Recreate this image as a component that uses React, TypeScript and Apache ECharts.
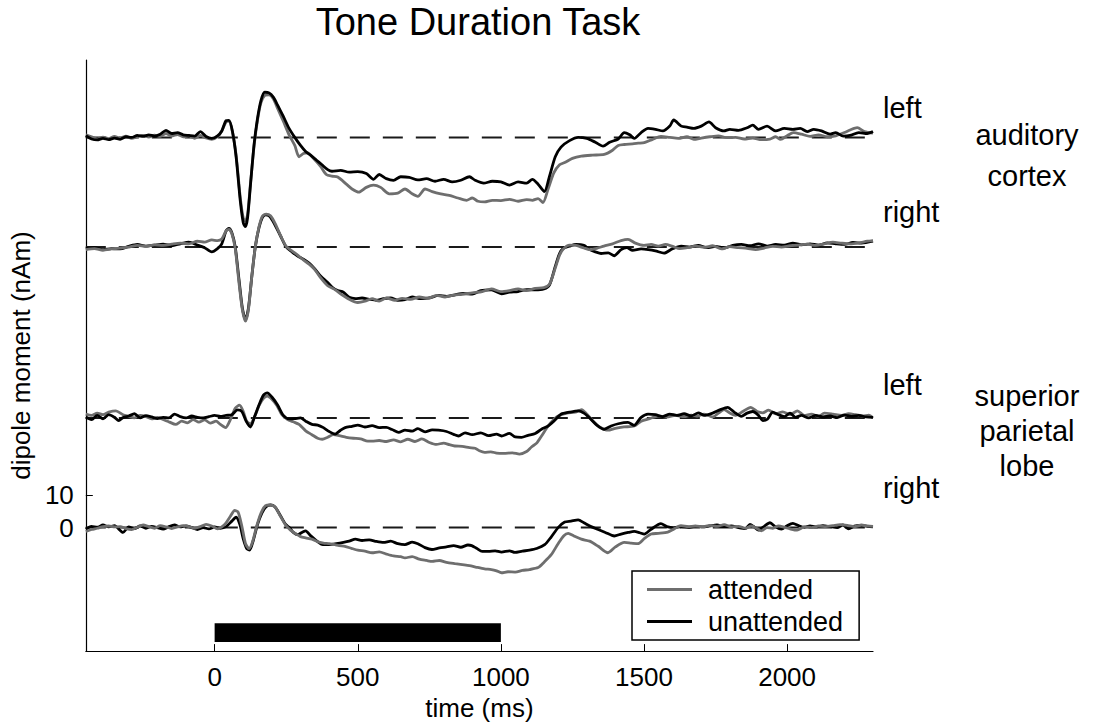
import React, { useEffect, useRef } from "react";
import * as echarts from "echarts";

// ---------- data (values relative to each trace's baseline, nAm) ----------
const traceNames = ["left auditory cortex", "right auditory cortex", "left superior parietal lobe", "right superior parietal lobe"];
const baselines = [121, 87, 34, 0];
const xTicks = [0, 500, 1000, 1500, 2000];
const yTicks = [0, 10];
const stimulusTime = [0, 1000];
const stimulusLevel = [-35.5, -29.7];

const lacAttended = [
  [-450, 0.8], [-430, 0.2], [-410, -0.5], [-390, 0.1], [-370, -0.4], [-350, 0.3], [-330, -0.2], [-310, 0.4], [-290, -0.3], [-270, 0.2], [-250, 0.6], [-230, 0.1], [-210, 0.7], [-190, 0.3], [-170, 1.2], [-150, 0.4], [-130, 0.9], [-110, 0.2], [-90, 0.5], [-70, -0.3], [-50, 0.6], [-30, -0.2], [-10, -0.6], [10, 0.2], [25, 2.0], [40, 4.8], [50, 5.0], [62, 1.8], [75, -5.5], [90, -19], [100, -25], [107, -26], [115, -24], [125, -14.5], [138, -2.5], [150, 5.5], [162, 10.8], [175, 13.0], [190, 13.2], [205, 12.0], [220, 9.0], [240, 5.0], [260, 0.8], [280, -2.5], [295, -6.0], [310, -5.0], [325, -4.8], [345, -6.5], [370, -9.0], [390, -11.5], [410, -12.0], [430, -12.3], [460, -14.5], [480, -16.0], [504, -17.0], [530, -15.5], [555, -14.8], [580, -15.5], [610, -17.5], [640, -17.3], [665, -16.0], [690, -17.5], [710, -18.3], [735, -16.0], [760, -16.8], [790, -17.5], [820, -18.0], [850, -18.8], [880, -19.5], [900, -18.8], [920, -19.8], [943, -20.0], [970, -19.5], [1000, -19.6], [1030, -19.2], [1060, -19.8], [1090, -19.3], [1110, -19.5], [1130, -19.0], [1147, -20.2], [1165, -16.0], [1185, -11.0], [1205, -8.5], [1223, -7.8], [1250, -6.5], [1281, -5.8], [1320, -5.5], [1361, -5.3], [1390, -4.0], [1410, -2.5], [1431, -2.2], [1460, -2.0], [1480, -1.8], [1501, -1.6], [1530, -0.6], [1559, 0.3], [1590, 0.0], [1620, -0.3], [1650, 0.2], [1674, -0.6], [1700, -0.2], [1730, 0.2], [1760, 0.5], [1790, -0.1], [1820, 0.0], [1850, -0.5], [1880, -0.2], [1910, -0.7], [1940, -0.5], [1960, 0.2], [1977, -0.6], [2000, 0.5], [2022, 1.5], [2050, 1.0], [2080, 0.3], [2110, 0.8], [2140, 0.2], [2170, 0.5], [2200, 1.5], [2220, 2.3], [2245, 3.0], [2270, 1.8], [2300, 1.3],
];
const lacUnattended = [
  [-450, 0.5], [-430, -0.5], [-410, -0.8], [-390, -0.3], [-370, -0.7], [-350, -0.2], [-330, -0.6], [-310, 0.2], [-290, 0.0], [-270, 0.6], [-250, 0.3], [-230, 0.8], [-210, 0.4], [-190, 1.0], [-170, 2.2], [-150, 1.2], [-130, 1.5], [-110, 0.8], [-90, 0.6], [-70, 0.4], [-50, 1.8], [-30, 0.3], [-10, -0.3], [10, 0.5], [25, 2.0], [40, 5.2], [50, 5.3], [62, 2.0], [75, -6.0], [90, -20], [100, -26.5], [107, -27.7], [115, -25], [125, -15], [138, -2.0], [150, 6.0], [162, 11.5], [175, 14.0], [190, 13.8], [205, 12.5], [220, 10.0], [240, 6.5], [260, 2.8], [280, 0.0], [300, -2.5], [318, -4.4], [335, -5.5], [355, -7.0], [375, -8.5], [395, -10.0], [410, -10.5], [440, -10.2], [470, -10.8], [500, -10.6], [530, -11.2], [555, -13.0], [575, -11.5], [600, -12.8], [625, -13.3], [650, -12.2], [680, -12.4], [710, -13.2], [740, -12.8], [770, -13.6], [800, -13.0], [830, -13.8], [860, -13.3], [890, -12.2], [910, -13.3], [940, -14.2], [970, -13.6], [1000, -13.8], [1030, -14.8], [1060, -13.8], [1090, -14.2], [1110, -13.0], [1130, -14.5], [1152, -16.8], [1170, -12.0], [1190, -6.0], [1210, -3.0], [1240, -1.0], [1270, 0.0], [1300, -0.3], [1330, -1.5], [1357, -2.7], [1380, -1.5], [1410, -0.5], [1431, 1.5], [1450, 0.8], [1466, -0.3], [1490, 1.5], [1514, 2.8], [1540, 2.5], [1566, 2.0], [1590, 3.5], [1604, 5.4], [1630, 3.5], [1650, 3.2], [1674, 2.8], [1700, 3.5], [1727, 4.8], [1750, 3.0], [1779, 2.0], [1800, 2.5], [1830, 2.2], [1860, 3.0], [1880, 3.8], [1900, 2.5], [1930, 3.5], [1960, 2.0], [1990, 2.8], [2020, 2.5], [2046, 2.8], [2070, 1.8], [2093, 2.5], [2120, 2.0], [2150, 1.0], [2170, 1.5], [2196, 0.4], [2220, 0.6], [2250, 1.5], [2280, 1.2], [2300, 1.8],
];
const racAttended = [
  [-450, -0.8], [-420, -0.5], [-390, -1.0], [-360, -0.6], [-330, -0.3], [-300, 0.0], [-270, 0.5], [-240, 0.2], [-210, 0.7], [-180, 0.5], [-150, 0.9], [-120, 1.2], [-90, 1.0], [-60, 1.8], [-35, 1.5], [-10, 2.2], [10, 2.0], [25, 2.5], [40, 5.0], [50, 5.5], [60, 4.2], [72, -0.5], [85, -11], [97, -19.5], [108, -23], [118, -19.5], [130, -9], [142, 0], [155, 6.3], [167, 9.6], [180, 10.2], [195, 9.7], [212, 7.2], [232, 3.2], [250, 0.2], [270, -1.2], [290, -2.5], [310, -4.0], [330, -5.3], [350, -7.0], [370, -9.5], [395, -12.0], [420, -13.2], [445, -14.8], [470, -16.2], [500, -17.2], [525, -16.8], [550, -16.0], [575, -16.8], [600, -15.8], [630, -16.5], [655, -15.9], [685, -16.2], [715, -15.5], [745, -15.9], [775, -15.0], [805, -15.5], [835, -14.9], [865, -14.7], [900, -14.2], [935, -13.8], [967, -13.0], [1000, -13.8], [1030, -13.5], [1060, -13.0], [1090, -13.5], [1120, -12.8], [1150, -12.6], [1170, -11.5], [1190, -6.5], [1205, -2.5], [1218, -0.6], [1240, 0.6], [1263, 0.5], [1290, -0.3], [1310, -0.8], [1335, -0.4], [1360, 0.3], [1390, 1.0], [1420, 2.0], [1444, 2.4], [1470, 1.2], [1500, 0.5], [1525, 0.8], [1550, 0.3], [1575, 0.8], [1600, 0.2], [1625, -0.5], [1650, -0.2], [1680, 0.3], [1710, -0.1], [1740, 0.4], [1770, -0.6], [1800, 0.1], [1830, -0.2], [1860, -0.4], [1890, -0.8], [1920, -0.3], [1950, 0.2], [1980, 0.0], [2010, 0.4], [2040, 0.6], [2070, 0.9], [2100, 0.5], [2130, 1.0], [2160, 1.5], [2190, 1.2], [2220, 1.0], [2250, 1.3], [2280, 1.8], [2300, 2.0],
];
const racUnattended = [
  [-450, -0.5], [-420, -0.2], [-390, -0.8], [-360, -0.5], [-330, -0.6], [-300, 0.2], [-270, 0.8], [-240, 0.3], [-210, 0.6], [-180, 0.9], [-150, 0.4], [-120, 1.0], [-90, 1.5], [-60, 0.6], [-35, -0.2], [-10, -1.5], [10, -0.5], [25, 1.0], [40, 5.0], [50, 5.8], [60, 4.5], [72, 0], [85, -10], [97, -19], [108, -22.5], [118, -19], [130, -9], [142, 0], [155, 6.0], [167, 9.2], [178, 10.0], [192, 9.5], [210, 7.0], [230, 3.5], [250, 0.0], [270, -1.5], [290, -2.8], [310, -3.8], [330, -5.0], [350, -6.8], [370, -9.0], [395, -11.0], [411, -12.5], [430, -13.5], [450, -14.0], [470, -15.6], [492, -16.0], [515, -15.8], [540, -16.2], [565, -16.5], [590, -16.0], [615, -15.8], [640, -16.5], [665, -16.3], [690, -15.5], [720, -16.0], [750, -15.8], [782, -15.0], [810, -15.3], [840, -14.8], [870, -14.4], [900, -14.6], [930, -13.5], [967, -13.3], [1002, -14.5], [1030, -14.0], [1060, -13.8], [1090, -13.2], [1120, -13.3], [1150, -13.0], [1170, -11.7], [1190, -6.0], [1205, -2.0], [1218, -0.4], [1240, 0.3], [1263, 0.8], [1290, 0.5], [1310, -0.8], [1330, -1.5], [1350, -2.0], [1375, -1.8], [1396, -2.7], [1420, -0.8], [1440, -0.2], [1460, -1.0], [1490, -0.6], [1515, -0.8], [1540, -1.2], [1570, -1.9], [1600, -0.5], [1630, 0.3], [1660, 0.0], [1690, 0.5], [1720, -0.2], [1750, 0.2], [1780, -0.3], [1810, 0.5], [1840, 0.8], [1870, 0.4], [1900, 1.0], [1930, 0.3], [1960, 0.8], [1990, 0.6], [2020, 1.2], [2050, 0.7], [2080, 1.0], [2110, 0.6], [2140, 1.3], [2170, 1.0], [2200, 0.8], [2230, 1.4], [2260, 1.2], [2300, 1.8],
];
const lsplAttended = [
  [-450, 1.2], [-430, 0.8], [-410, 1.5], [-390, 1.0], [-370, 1.8], [-345, 2.2], [-320, 1.0], [-300, 0.5], [-280, 0.0], [-260, 0.8], [-240, 0.4], [-220, -0.3], [-200, 0.2], [-180, -0.5], [-160, -1.2], [-136, -2.0], [-115, -1.0], [-95, -1.5], [-75, -0.5], [-55, -1.3], [-35, -0.6], [-15, -1.6], [5, -1.0], [20, -2.0], [38, -3.0], [55, -0.5], [72, 3.0], [87, 4.0], [100, 2.0], [112, -1.0], [125, -1.8], [140, 0.5], [155, 3.8], [170, 6.0], [184, 6.8], [200, 5.8], [218, 3.8], [235, 1.0], [255, -0.5], [275, -1.2], [295, -2.0], [318, -4.0], [340, -5.2], [360, -6.3], [376, -6.6], [395, -6.0], [415, -5.2], [435, -5.5], [460, -6.0], [485, -6.3], [510, -6.5], [535, -7.2], [550, -7.2], [575, -7.0], [600, -7.3], [625, -6.8], [650, -7.4], [675, -6.6], [700, -7.3], [724, -6.5], [750, -7.6], [775, -8.2], [800, -7.8], [820, -8.3], [839, -8.7], [865, -8.8], [890, -9.2], [910, -9.4], [925, -10.2], [943, -10.7], [965, -10.5], [985, -10.9], [1010, -11.0], [1040, -10.8], [1065, -11.2], [1090, -10.4], [1107, -9.0], [1125, -7.8], [1142, -5.6], [1165, -2.5], [1185, -0.5], [1200, 0.6], [1230, 1.5], [1260, 1.8], [1282, 2.6], [1300, 1.2], [1320, -0.8], [1345, -2.8], [1374, -3.8], [1400, -3.2], [1430, -2.8], [1466, -2.5], [1490, -1.0], [1520, -0.2], [1549, 0.6], [1580, 0.3], [1610, 0.8], [1640, 0.4], [1665, 0.9], [1688, 0.6], [1710, 1.2], [1740, 0.3], [1760, 1.5], [1780, 2.6], [1800, 1.5], [1820, 0.8], [1845, 2.0], [1873, 3.3], [1895, 2.0], [1915, 1.6], [1935, 2.4], [1960, 1.3], [1985, 1.9], [2010, 1.0], [2036, 2.2], [2060, 0.8], [2085, 1.2], [2110, 0.5], [2130, 1.5], [2160, 1.2], [2190, 0.8], [2215, 1.3], [2240, 1.0], [2265, 0.6], [2285, 0.9], [2300, 0.0],
];
const lsplUnattended = [
  [-450, 0.3], [-430, -0.5], [-410, 0.8], [-390, -0.3], [-370, 1.0], [-350, 0.2], [-335, -0.8], [-320, 0.1], [-300, 0.6], [-280, 1.3], [-260, 0.0], [-240, 0.7], [-220, 0.3], [-200, -0.2], [-180, 0.2], [-160, 0.0], [-140, 1.2], [-120, 0.4], [-100, 0.0], [-80, 0.6], [-60, 0.2], [-40, 0.0], [-20, 0.4], [0, 0.8], [20, 0.5], [40, 0.8], [60, 1.0], [80, 2.5], [95, 2.0], [110, -1.0], [125, -2.8], [140, 0.5], [155, 4.0], [170, 7.0], [184, 7.8], [200, 6.5], [220, 4.0], [240, 0.8], [260, -0.3], [280, -0.2], [300, 0.0], [318, -1.0], [340, -2.0], [360, -2.2], [380, -3.0], [400, -4.2], [421, -5.0], [440, -3.8], [456, -3.0], [480, -2.6], [500, -2.2], [525, -2.8], [550, -2.4], [575, -3.0], [600, -2.9], [620, -3.6], [643, -4.5], [665, -3.8], [690, -4.1], [710, -3.3], [735, -4.3], [760, -3.7], [782, -3.8], [810, -4.2], [835, -5.1], [852, -5.6], [875, -4.6], [900, -5.2], [930, -4.6], [957, -5.5], [985, -5.0], [1002, -5.6], [1030, -4.8], [1050, -5.9], [1072, -6.0], [1095, -5.4], [1120, -4.8], [1142, -3.5], [1165, -2.5], [1185, -1.0], [1211, 1.2], [1240, 1.8], [1270, 2.2], [1290, 1.5], [1310, 0.0], [1335, -2.2], [1361, -3.5], [1385, -2.5], [1410, -1.8], [1444, -1.4], [1465, -2.3], [1490, 0.2], [1514, 1.2], [1540, 1.0], [1565, 0.4], [1590, 1.2], [1615, 0.8], [1640, 1.3], [1665, 0.6], [1690, 1.6], [1710, 0.8], [1740, 1.5], [1765, 2.5], [1792, 3.3], [1815, 1.8], [1840, 0.5], [1860, 1.5], [1880, 2.0], [1900, 0.8], [1915, -0.8], [1931, -0.4], [1950, 1.8], [1970, 1.0], [1990, 0.4], [2010, 1.5], [2030, 0.2], [2050, 0.8], [2075, 0.0], [2100, 0.8], [2125, 0.3], [2150, 0.6], [2175, 0.1], [2200, 0.9], [2225, 0.5], [2250, 0.8], [2275, 0.3], [2300, 0.2],
];
const rsplAttended = [
  [-450, -1.2], [-430, -0.6], [-410, -0.2], [-390, 0.3], [-370, 0.5], [-350, 0.2], [-330, 0.3], [-310, -0.3], [-290, -0.6], [-270, 0.1], [-250, 0.8], [-230, 0.3], [-210, -0.2], [-190, 0.6], [-170, 0.2], [-150, -0.3], [-130, 0.2], [-110, 0.6], [-90, 0.3], [-70, -0.2], [-50, 0.3], [-30, 1.0], [-10, 0.5], [10, -0.4], [25, 0.2], [40, 1.5], [55, 3.5], [70, 5.3], [82, 4.8], [95, 0.5], [108, -5.0], [120, -6.5], [132, -4.5], [147, 0.5], [162, 4.5], [178, 6.8], [195, 7.0], [212, 6.3], [230, 3.5], [248, 0.8], [265, -0.8], [285, -2.0], [300, -2.8], [318, -3.2], [340, -3.6], [360, -4.4], [380, -4.8], [400, -5.0], [420, -5.3], [435, -5.6], [455, -5.8], [480, -6.5], [500, -7.0], [525, -7.3], [550, -7.8], [575, -7.5], [600, -8.2], [625, -8.8], [650, -9.0], [665, -9.4], [690, -9.0], [715, -9.8], [740, -10.2], [760, -10.5], [785, -10.2], [810, -10.8], [840, -11.2], [865, -11.5], [890, -11.8], [915, -12.3], [943, -12.8], [967, -13.0], [985, -13.4], [1002, -14.0], [1025, -13.7], [1050, -13.8], [1075, -13.3], [1100, -13.0], [1130, -12.4], [1150, -10.8], [1176, -8.4], [1200, -5.0], [1220, -2.5], [1235, -1.8], [1255, -2.6], [1281, -3.6], [1310, -4.2], [1340, -5.8], [1374, -7.8], [1400, -6.0], [1431, -4.6], [1455, -4.8], [1479, -5.0], [1500, -3.5], [1525, -2.0], [1550, -1.8], [1583, -1.4], [1605, -0.4], [1629, 0.6], [1655, 0.3], [1680, 0.5], [1705, 0.2], [1730, 0.7], [1755, 0.4], [1780, 0.9], [1805, 0.2], [1830, 0.4], [1855, -0.2], [1875, 0.5], [1895, -0.3], [1910, -1.0], [1930, 0.0], [1950, -0.2], [1970, 0.5], [1990, 0.1], [2010, -0.4], [2035, -0.8], [2060, 0.2], [2085, 0.0], [2110, 0.5], [2135, 0.3], [2160, 0.6], [2185, 0.9], [2210, 0.7], [2235, 0.3], [2260, 0.8], [2280, 0.5], [2300, 0.4],
];
const rsplUnattended = [
  [-450, -0.5], [-430, 0.4], [-410, 0.1], [-390, 0.8], [-370, 0.2], [-350, 0.6], [-320, -1.5], [-300, 0.2], [-280, -0.3], [-260, 0.5], [-240, -0.2], [-220, 0.4], [-200, 0.0], [-180, -0.5], [-160, 0.3], [-140, 0.8], [-120, 0.2], [-100, 0.5], [-80, 0.0], [-60, -0.6], [-40, 0.0], [-20, -0.4], [0, 0.2], [20, -0.2], [40, 0.3], [60, 2.0], [75, 3.2], [88, 1.0], [100, -3.5], [112, -6.5], [122, -7.0], [135, -4.0], [150, 1.0], [165, 4.5], [180, 6.5], [195, 7.0], [210, 6.5], [228, 4.0], [248, 1.0], [261, 0.0], [275, -1.5], [290, -2.2], [305, -1.5], [318, -1.0], [335, -2.5], [355, -4.0], [375, -5.2], [400, -5.3], [425, -5.0], [450, -4.6], [470, -4.2], [492, -3.6], [515, -4.0], [540, -3.8], [565, -4.3], [590, -4.6], [615, -4.2], [640, -5.0], [665, -5.3], [690, -4.5], [710, -5.0], [735, -6.2], [759, -6.8], [785, -6.3], [810, -6.0], [835, -5.6], [860, -6.1], [885, -5.4], [898, -5.6], [915, -6.4], [935, -7.4], [957, -7.4], [980, -7.2], [1002, -7.6], [1030, -7.2], [1049, -7.7], [1075, -7.3], [1100, -7.0], [1125, -6.5], [1153, -5.3], [1175, -3.0], [1200, 0.0], [1223, 1.7], [1245, 2.0], [1270, 2.4], [1290, 1.5], [1315, 0.3], [1340, -0.6], [1365, -1.5], [1396, -2.6], [1420, -2.0], [1445, -1.5], [1466, -1.2], [1485, -1.6], [1501, -2.0], [1525, -0.5], [1559, 1.2], [1580, 0.3], [1605, 0.0], [1630, 0.3], [1655, 0.1], [1680, 0.4], [1705, 0.2], [1730, 0.5], [1755, 0.8], [1780, 0.3], [1805, 0.5], [1830, 0.0], [1855, -0.3], [1870, 1.0], [1885, 0.2], [1900, -0.8], [1920, 0.4], [1940, 1.5], [1960, 0.2], [1980, -0.5], [2000, 0.6], [2020, 1.3], [2040, 0.6], [2060, 0.1], [2080, 0.5], [2100, 0.2], [2125, 0.6], [2150, 0.3], [2175, 0.0], [2195, 0.8], [2215, -0.4], [2235, 0.5], [2255, 0.7], [2280, 0.4], [2300, 0.2],
];

const attendedTraces = [lacAttended, racAttended, lsplAttended, rsplAttended];
const unattendedTraces = [lacUnattended, racUnattended, lsplUnattended, rsplUnattended];

// ---------- styling ----------
const FONT = "'Liberation Sans', Arial, Helvetica, sans-serif";
const GRAY = "#6e6e6e";
const BLACK = "#000000";
const X_MIN = -450;
const X_MAX = 2300;
const Y_MIN = -38.3;
const Y_MAX = 145;

function shift(trace: number[][], b: number) {
  return trace.map(([t, v]) => [t, v + b]);
}

function lineSeries(name: string, data: number[][], color: string, z: number) {
  return {
    name,
    type: "line",
    data,
    showSymbol: false,
    symbol: "none",
    smooth: 0.25,
    lineStyle: { color, width: 2.8 },
    itemStyle: { color },
    emphasis: { disabled: true },
    z,
  };
}

function txt(text: string, x: number, y: number, fontSize: number, align: string) {
  return {
    type: "text",
    x,
    y,
    silent: true,
    style: {
      text,
      fill: "#000",
      fontSize,
      fontFamily: FONT,
      align,
      textAlign: align,
      verticalAlign: "middle",
      textVerticalAlign: "middle",
    },
  };
}

export default function App() {
  const ref = useRef<HTMLDivElement>(null);

  useEffect(() => {
    document.body.style.margin = "0";
    const chart = echarts.init(ref.current!, null, { renderer: "svg" });

    const series: any[] = [];
    // dashed baselines + stimulus bar
    baselines.forEach((b, i) => {
      series.push({
        name: "baseline " + traceNames[i],
        type: "line",
        data: [[X_MIN, b], [X_MAX, b]],
        symbol: "none",
        showSymbol: false,
        lineStyle: { color: "#1a1a1a", width: 2, type: [20, 13] },
        emphasis: { disabled: true },
        silent: true,
        z: 1,
        ...(i === 3
          ? {
              markArea: {
                silent: true,
                itemStyle: { color: "#000", borderWidth: 0 },
                data: [[
                  { xAxis: stimulusTime[0], yAxis: stimulusLevel[0] },
                  { xAxis: stimulusTime[1], yAxis: stimulusLevel[1] },
                ]],
              },
            }
          : {}),
      });
    });
    // traces: on left-hemisphere traces black is on top, on right ones gray is on top
    baselines.forEach((b, i) => {
      const leftSide = i % 2 === 0;
      series.push(lineSeries("attended", shift(attendedTraces[i], b), GRAY, leftSide ? 2 : 4));
      series.push(lineSeries("unattended", shift(unattendedTraces[i], b), BLACK, leftSide ? 4 : 2));
    });

    chart.setOption({
      animation: false,
      backgroundColor: "#ffffff",
      textStyle: { fontFamily: FONT },
      grid: { left: 83, top: 60, width: 790, height: 592, containLabel: false },
      legend: {
        data: [
          { name: "attended", icon: "rect" },
          { name: "unattended", icon: "rect" },
        ],
        orient: "vertical",
        left: 632,
        top: 571,
        padding: [5, 16, 5, 15],
        itemGap: 5,
        itemWidth: 45,
        itemHeight: 3,
        backgroundColor: "#fff",
        borderColor: "#000",
        borderWidth: 1.5,
        borderRadius: 0,
        selectedMode: false,
        textStyle: { fontSize: 27, color: "#000", fontFamily: FONT, padding: [0, 0, 0, 11] },
      },
      xAxis: {
        type: "value",
        min: X_MIN,
        max: X_MAX,
        name: "time (ms)",
        nameLocation: "middle",
        nameGap: 43,
        nameTextStyle: { fontSize: 26, color: "#000", fontFamily: FONT },
        axisLine: { show: true, onZero: false, lineStyle: { color: "#000", width: 1.2 } },
        axisTick: { show: true, inside: true, length: 7, customValues: xTicks, lineStyle: { color: "#000", width: 1 } },
        axisLabel: {
          customValues: xTicks,
          fontSize: 26,
          color: "#000",
          margin: 13,
          fontFamily: FONT,
          formatter: (v: number) => String(v),
        },
        splitLine: { show: false },
      },
      yAxis: {
        type: "value",
        min: Y_MIN,
        max: Y_MAX,
        name: "dipole moment (nAm)",
        nameLocation: "middle",
        nameRotate: 90,
        nameGap: 46,
        nameTextStyle: { fontSize: 26, color: "#000", fontFamily: FONT },
        axisLine: { show: true, onZero: false, lineStyle: { color: "#000", width: 1.2 } },
        axisTick: { show: true, inside: true, length: 7, customValues: yTicks, lineStyle: { color: "#000", width: 1 } },
        axisLabel: {
          customValues: yTicks,
          fontSize: 26,
          color: "#000",
          margin: 12,
          fontFamily: FONT,
          formatter: (v: number) => String(v),
        },
        splitLine: { show: false },
      },
      graphic: [
        txt("Tone Duration Task", 478, 22, 38, "center"),
        txt("left", 883, 108, 29, "left"),
        txt("right", 883, 212, 29, "left"),
        txt("left", 883, 385, 29, "left"),
        txt("right", 883, 488, 29, "left"),
        txt("auditory", 1027, 135, 29, "center"),
        txt("cortex", 1027, 176, 29, "center"),
        txt("superior", 1027, 396, 29, "center"),
        txt("parietal", 1027, 431, 29, "center"),
        txt("lobe", 1027, 466, 29, "center"),
      ],
      series,
    });

    return () => chart.dispose();
  }, []);

  return (
    <div
      ref={ref}
      style={{ position: "absolute", left: 0, top: 0, width: 1095, height: 726, background: "#fff" }}
    />
  );
}
